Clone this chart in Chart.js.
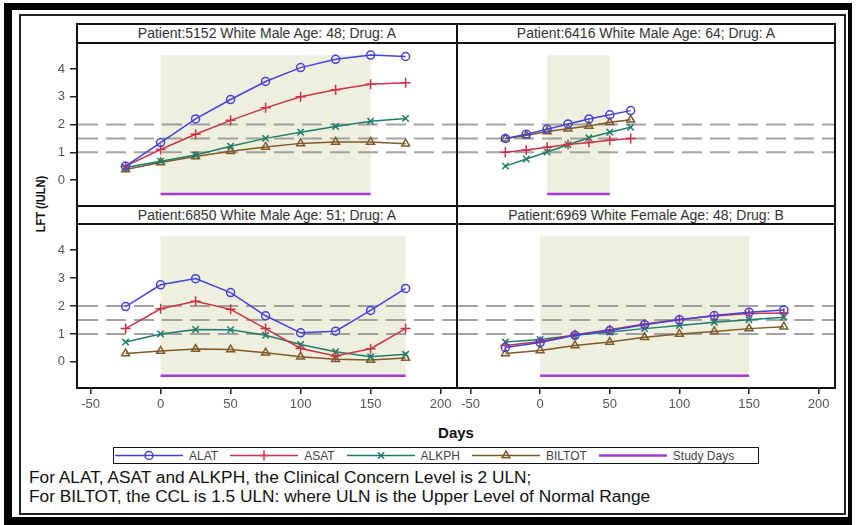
<!DOCTYPE html>
<html>
<head>
<meta charset="utf-8">
<script src="https://cdn.jsdelivr.net/npm/chart.js@4.4.0/dist/chart.umd.min.js"></script>
<style>
  body { margin: 0; width: 856px; height: 525px; background: #fff; overflow: hidden;
         font-family: "Liberation Sans", Arial, sans-serif; }
  .abs { position: absolute; box-sizing: border-box; }
  .frame { z-index: 2; }
  #outer { left: 4px; top: 3px; width: 848px; height: 522px; border-style: solid; border-color: #000;
           border-width: 7px 4px 8px 8px; }
  #inner { left: 19px; top: 14px; width: 827px; height: 501px; border: 2px solid #222; }
  #grid { left: 76px; top: 23px; width: 760px; height: 366px; border: 2px solid #111; }
  .hline { height: 2px; background: #111; }
  .vline { width: 2px; background: #111; }
  .head { height: 17px; line-height: 17px; text-align: center; font-size: 14px; color: #333; white-space: nowrap; }
  canvas.panel { position: absolute; z-index: 1; }
  #ylabel { left: 40px; top: 204px; font-size: 13.5px; font-weight: bold; color: #111; white-space: nowrap;
            transform: translate(-50%, -50%) rotate(-90deg) scaleX(0.82); }
  #xlabel { left: 456px; top: 432px; font-size: 15px; font-weight: bold; color: #111;
            transform: translate(-50%, -50%); }
  #legend { left: 113px; top: 447px; width: 646px; height: 17px; border: 1.5px solid #111;
            display: flex; align-items: center; padding-left: 1px; }
  .item { display: flex; align-items: center; margin-right: 12px; }
  .item span { font-size: 12px; color: #444; margin-left: 6px; }
  .note { left: 29px; font-size: 17.3px; color: #111; white-space: nowrap; }
</style>
</head>
<body>
<div class="abs" id="outer"></div>
<div class="abs" id="inner"></div>

<div class="abs frame" id="grid"></div>
<div class="abs frame vline" style="left:456px; top:23px; height:366px;"></div>
<div class="abs frame hline" style="left:76px; top:42px; width:760px;"></div>
<div class="abs frame hline" style="left:76px; top:205px; width:760px;"></div>
<div class="abs frame hline" style="left:76px; top:223px; width:760px;"></div>

<div class="abs head" id="h1" style="left:78px; top:25px; width:378px;"></div>
<div class="abs head" id="h2" style="left:458px; top:25px; width:376px;"></div>
<div class="abs head" id="h3" style="left:78px; top:207px; width:378px;"></div>
<div class="abs head" id="h4" style="left:458px; top:207px; width:376px;"></div>

<canvas class="panel" id="p1" width="418" height="161" style="left:38px; top:44px;"></canvas>
<canvas class="panel" id="p2" width="376" height="161" style="left:458px; top:44px;"></canvas>
<canvas class="panel" id="p3" width="418" height="200" style="left:38px; top:225px;"></canvas>
<canvas class="panel" id="p4" width="376" height="200" style="left:458px; top:225px;"></canvas>

<div class="abs" id="ylabel">LFT (/ULN)</div>
<div class="abs" id="xlabel">Days</div>
<div class="abs" id="legend"></div>
<div class="abs note" style="top:467px;">For ALAT, ASAT and ALKPH, the Clinical Concern Level is 2 ULN;</div>
<div class="abs note" style="top:486px;">For BILTOT, the CCL is 1.5 ULN: where ULN is the Upper Level of Normal Range</div>

<script>
// visit days
const days9 = [-25, 0, 25, 50, 75, 100, 125, 150, 175];
const days7 = [-25, -10, 5, 20, 35, 50, 65];

// patient 5152
const alat5152   = [0.5, 1.35, 2.2, 2.9, 3.55, 4.05, 4.35, 4.5, 4.45];
const asat5152   = [0.5, 1.1, 1.65, 2.15, 2.6, 3.0, 3.25, 3.45, 3.5];
const alkph5152  = [0.45, 0.68, 0.9, 1.22, 1.5, 1.72, 1.93, 2.12, 2.22];
const biltot5152 = [0.38, 0.63, 0.85, 1.04, 1.19, 1.32, 1.37, 1.37, 1.31];

// patient 6416
const alat6416   = [1.5, 1.65, 1.83, 2.02, 2.2, 2.35, 2.5];
const asat6416   = [1.0, 1.08, 1.18, 1.28, 1.35, 1.43, 1.5];
const alkph6416  = [0.5, 0.76, 1.01, 1.27, 1.52, 1.72, 1.9];
const biltot6416 = [1.49, 1.6, 1.75, 1.85, 1.95, 2.08, 2.17];

// patient 6850
const alat6850   = [1.98, 2.76, 2.98, 2.48, 1.65, 1.04, 1.1, 1.84, 2.63];
const asat6850   = [1.19, 1.9, 2.17, 1.88, 1.19, 0.48, 0.21, 0.47, 1.19];
const alkph6850  = [0.71, 1.0, 1.16, 1.15, 0.95, 0.62, 0.36, 0.18, 0.27];
const biltot6850 = [0.3, 0.39, 0.46, 0.44, 0.33, 0.18, 0.09, 0.07, 0.14];

// patient 6969
const alat6969   = [0.51, 0.69, 0.95, 1.12, 1.33, 1.51, 1.66, 1.78, 1.86];
const asat6969   = [0.59, 0.73, 0.97, 1.15, 1.36, 1.52, 1.64, 1.73, 1.75];
const alkph6969  = [0.71, 0.8, 0.95, 1.07, 1.19, 1.3, 1.42, 1.51, 1.6];
const biltot6969 = [0.3, 0.41, 0.59, 0.71, 0.88, 1.0, 1.09, 1.19, 1.26];

// study day windows [first, last]
const study5152 = [0, 150];
const study6416 = [5, 50];
const study6850 = [0, 175];
const study6969 = [0, 150];

const titles = [
  'Patient:5152 White Male Age: 48; Drug: A',
  'Patient:6416 White Male Age: 64; Drug: A',
  'Patient:6850 White Male Age: 51; Drug: A',
  'Patient:6969 White Female Age: 48; Drug: B'
];

// clinical concern levels (dashed) and study band extent
const concernLevels = [2, 1.5, 1];
const bandLow = -0.5;
const bandHigh = 4.5;

const yTicks = [0, 1, 2, 3, 4];
const xTicks = [-50, 0, 50, 100, 150, 200];

const series = [
  { label: 'ALAT',   color: '#4242dc', pointStyle: 'circle',   radius: 4 },
  { label: 'ASAT',   color: '#cc3344', pointStyle: 'cross',    radius: 5 },
  { label: 'ALKPH',  color: '#1e7d6c', pointStyle: 'crossRot', radius: 4.5 },
  { label: 'BILTOT', color: '#7d5a28', pointStyle: 'triangle', radius: 4.5 }
];
const studyColor = '#a63ad8';

// shaded study window + dashed concern lines, under the data
const backdrop = {
  id: 'backdrop',
  beforeDatasetsDraw(chart, args, opts) {
    const { ctx, chartArea, scales: { x, y } } = chart;
    ctx.save();
    const x0 = x.getPixelForValue(opts.study[0]);
    const x1 = x.getPixelForValue(opts.study[1]);
    const y0 = y.getPixelForValue(bandHigh);
    const y1 = y.getPixelForValue(bandLow);
    ctx.fillStyle = '#efefdf';
    ctx.fillRect(x0, y0, x1 - x0, y1 - y0);
    ctx.strokeStyle = 'rgba(140,140,140,0.8)';
    ctx.lineWidth = 2;
    ctx.setLineDash([20, 8]);
    concernLevels.forEach(v => {
      const py = y.getPixelForValue(v);
      ctx.beginPath();
      ctx.moveTo(chartArea.left, py);
      ctx.lineTo(chartArea.right, py);
      ctx.stroke();
    });
    ctx.restore();
  }
};

function makePanel(id, days, values, study, showX, showY) {
  const datasets = series.map((s, i) => ({
    label: s.label,
    data: days.map((d, k) => ({ x: d, y: values[i][k] })),
    borderColor: s.color,
    borderWidth: 1.5,
    pointStyle: s.pointStyle,
    pointRadius: s.radius,
    pointBorderColor: s.color,
    pointBackgroundColor: 'rgba(0,0,0,0)',
    pointBorderWidth: 1.5,
    tension: 0
  }));
  datasets.push({
    label: 'Study Days',
    data: study.map(d => ({ x: d, y: bandLow })),
    borderColor: studyColor,
    borderWidth: 2.5,
    pointRadius: 0
  });

  return new Chart(document.getElementById(id), {
    type: 'line',
    data: { datasets },
    plugins: [backdrop],
    options: {
      responsive: false,
      animation: false,
      devicePixelRatio: 1,
      layout: { padding: 0, autoPadding: false },
      plugins: {
        legend: { display: false },
        tooltip: { enabled: false },
        backdrop: { study }
      },
      scales: {
        x: {
          type: 'linear', min: -59, max: 211,
          display: showX,
          afterFit: s => {
            if (showX) s.height = 38;
            s.paddingLeft = 0; s.paddingRight = 0;
          },
          afterBuildTicks: s => { s.ticks = xTicks.map(v => ({ value: v })); },
          ticks: { color: '#555', font: { family: 'Liberation Sans', size: 13 }, padding: 3, maxRotation: 0 },
          grid: { drawOnChartArea: false, tickLength: 7, tickColor: '#222', lineWidth: 1.5 },
          border: { display: false }
        },
        y: {
          type: 'linear', min: -0.9, max: 4.9,
          display: showY,
          afterFit: s => {
            if (showY) s.width = 40;
            s.paddingTop = 0; s.paddingBottom = 0;
          },
          afterBuildTicks: s => { s.ticks = yTicks.map(v => ({ value: v })); },
          ticks: { color: '#555', font: { family: 'Liberation Sans', size: 13 }, padding: 5 },
          grid: { drawOnChartArea: false, tickLength: 8, tickColor: '#222', lineWidth: 1.5 },
          border: { display: false }
        }
      }
    }
  });
}

makePanel('p1', days9, [alat5152, asat5152, alkph5152, biltot5152], study5152, false, true);
makePanel('p2', days7, [alat6416, asat6416, alkph6416, biltot6416], study6416, false, false);
makePanel('p3', days9, [alat6850, asat6850, alkph6850, biltot6850], study6850, true, true);
makePanel('p4', days9, [alat6969, asat6969, alkph6969, biltot6969], study6969, true, false);

titles.forEach((t, i) => { document.getElementById('h' + (i + 1)).textContent = t; });

// legend: line + marker sample, then label
const legend = document.getElementById('legend');
const legendItems = series.concat([{ label: 'Study Days', color: studyColor, pointStyle: false }]);
legendItems.forEach(s => {
  const item = document.createElement('div');
  item.className = 'item';
  const c = document.createElement('canvas');
  c.width = 68; c.height = 13;
  const ctx = c.getContext('2d');
  ctx.strokeStyle = s.color;
  ctx.lineWidth = s.pointStyle ? 1.5 : 2.5;
  ctx.beginPath();
  ctx.moveTo(0, 6.5);
  ctx.lineTo(68, 6.5);
  ctx.stroke();
  if (s.pointStyle) {
    ctx.fillStyle = 'rgba(0,0,0,0)';
    ctx.lineWidth = 1.5;
    Chart.helpers.drawPoint(ctx, { pointStyle: s.pointStyle, radius: s.radius, rotation: 0, borderWidth: 1.5 }, 34, 6.5);
  }
  const span = document.createElement('span');
  span.textContent = s.label;
  item.appendChild(c);
  item.appendChild(span);
  legend.appendChild(item);
});
</script>
</body>
</html>
